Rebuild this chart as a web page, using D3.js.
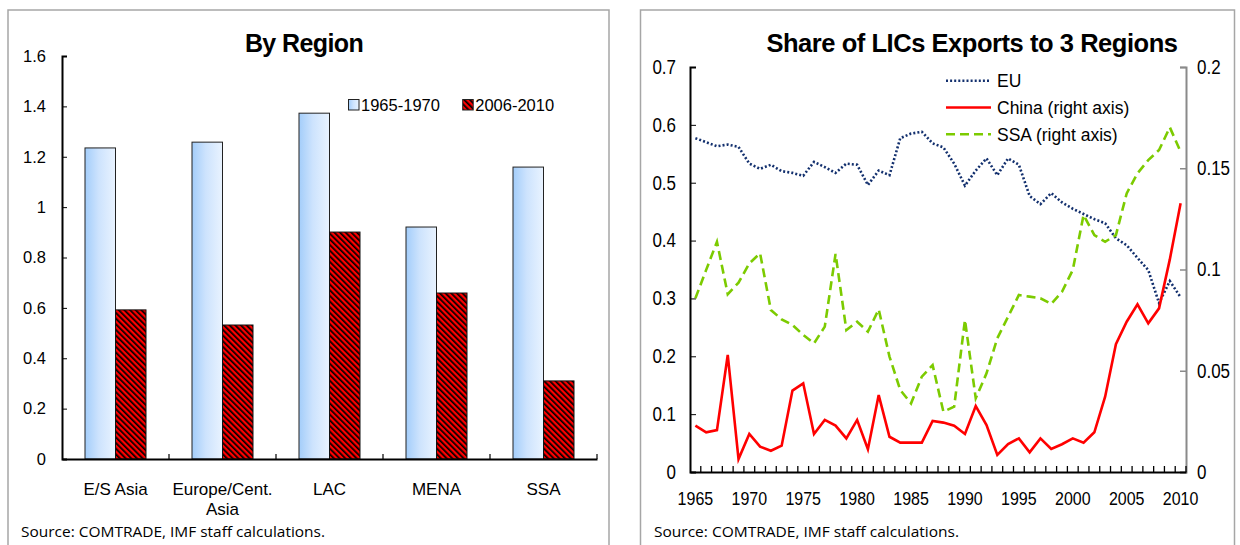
<!DOCTYPE html>
<html>
<head>
<meta charset="utf-8">
<script src="https://cdn.jsdelivr.net/npm/d3@7"></script>
<style>
  body { margin: 0; background: #fff; }
  text { font-family: "Liberation Sans", Arial, sans-serif; fill: #000; }
  .tall { transform-box: fill-box; transform-origin: center; transform: scaleY(1.15); }
</style>
</head>
<body>
<script>
// left chart data
var regions = ['E/S Asia', 'Europe/Cent. Asia', 'LAC', 'MENA', 'SSA']
var periods = ['1965-1970', '2006-2010']
var early = [1.235, 1.258, 1.373, 0.921, 1.159]
var late = [0.592, 0.532, 0.901, 0.659, 0.31]
var leftTicks = [0, 0.2, 0.4, 0.6, 0.8, 1, 1.2, 1.4, 1.6]

// right chart data
var years = d3.range(1965, 2011)
var yearLabels = [1965, 1970, 1975, 1980, 1985, 1990, 1995, 2000, 2005, 2010]
var eu = [0.577, 0.570, 0.563, 0.566, 0.562, 0.533, 0.524, 0.531, 0.520, 0.517,
          0.512, 0.536, 0.527, 0.517, 0.533, 0.531, 0.496, 0.521, 0.513, 0.577,
          0.585, 0.588, 0.568, 0.561, 0.533, 0.495, 0.521, 0.542, 0.513, 0.542,
          0.531, 0.477, 0.463, 0.482, 0.466, 0.455, 0.446, 0.437, 0.430, 0.404,
          0.392, 0.370, 0.349, 0.292, 0.330, 0.302]
var china = [0.0229, 0.0196, 0.0207, 0.0578, 0.0064, 0.0188, 0.0125, 0.0105, 0.0130, 0.0402,
             0.0438, 0.0188, 0.0257, 0.0229, 0.0166, 0.0257, 0.0112, 0.0380, 0.0174, 0.0145,
             0.0145, 0.0145, 0.0252, 0.0244, 0.0229, 0.0188, 0.0326, 0.0232, 0.0084, 0.0138,
             0.0166, 0.0097, 0.0166, 0.0114, 0.0137, 0.0166, 0.0145, 0.0196, 0.0372, 0.0631,
             0.0742, 0.0828, 0.0734, 0.0808, 0.1050, 0.1327]
var ssa = [0.0858, 0.0998, 0.1137, 0.0878, 0.0935, 0.1030, 0.1080, 0.0800, 0.0754, 0.0726,
           0.0677, 0.0635, 0.0718, 0.1077, 0.0701, 0.0742, 0.0693, 0.0803, 0.0570, 0.0405,
           0.0339, 0.0471, 0.0528, 0.0298, 0.0323, 0.0751, 0.0364, 0.0487, 0.0660, 0.0767,
           0.0874, 0.0866, 0.0858, 0.0830, 0.0890, 0.0998, 0.1269, 0.1170, 0.1137, 0.1170,
           0.1376, 0.1475, 0.1540, 0.1590, 0.1702, 0.1582]
var rightTicks = [0, 0.1, 0.2, 0.3, 0.4, 0.5, 0.6, 0.7]
var rightTicks2 = [0, 0.05, 0.1, 0.15, 0.2]
var seriesNames = ['EU', 'China (right axis)', 'SSA (right axis)']

var fmt = d3.format('~g')

var svg = d3.select('body').append('svg')
    .attr('width', 1240)
    .attr('height', 545)

var defs = svg.append('defs')

// light blue bar gradient
var grad = defs.append('linearGradient').attr('id', 'blueGrad')
    .attr('x1', 0).attr('x2', 1).attr('y1', 0).attr('y2', 0)
grad.append('stop').attr('offset', 0).attr('stop-color', '#a3cdfa')
grad.append('stop').attr('offset', 0.45).attr('stop-color', '#cde3fd')
grad.append('stop').attr('offset', 1).attr('stop-color', '#e9f3ff')

// red/black hatch
var hatch = defs.append('pattern').attr('id', 'hatch')
    .attr('patternUnits', 'userSpaceOnUse')
    .attr('width', 4).attr('height', 4)
    .attr('patternTransform', 'rotate(-45)')
hatch.append('rect').attr('width', 4).attr('height', 4).attr('fill', '#ff0000')
hatch.append('rect').attr('width', 1.7).attr('height', 4).attr('fill', '#000')

// panel frames
svg.append('rect').attr('x', 8).attr('y', 10).attr('width', 601).attr('height', 560)
    .attr('fill', 'none').attr('stroke', '#a6a6a6').attr('stroke-width', 1.5)
svg.append('rect').attr('x', 640.5).attr('y', 10).attr('width', 594).attr('height', 560)
    .attr('fill', 'none').attr('stroke', '#a6a6a6').attr('stroke-width', 1.5)

// ---------- left: By Region ----------
var xL = d3.scaleBand().domain(regions).range([62, 597])
var xSub = d3.scaleBand().domain(periods).range([0, xL.bandwidth()]).paddingOuter(0.754)
var yL = d3.scaleLinear().domain([0, 1.6]).range([459, 56])

svg.append('text').attr('x', 304).attr('y', 52).attr('text-anchor', 'middle')
    .style('font-weight', 'bold').style('font-size', '25px').style('letter-spacing', '-0.6px')
    .text('By Region')

var groups = svg.selectAll('.grp')
    .data(regions)
    .enter()
    .append('g')
    .attr('transform', function(d) { return 'translate(' + xL(d) + ',0)' })

groups.append('rect')
    .attr('x', xSub(periods[0]))
    .attr('y', function(d, i) { return yL(early[i]) })
    .attr('width', xSub.bandwidth())
    .attr('height', function(d, i) { return yL(0) - yL(early[i]) })
    .attr('fill', 'url(#blueGrad)')
    .attr('stroke', '#222').attr('stroke-width', 1)

groups.append('rect')
    .attr('x', xSub(periods[1]))
    .attr('y', function(d, i) { return yL(late[i]) })
    .attr('width', xSub.bandwidth())
    .attr('height', function(d, i) { return yL(0) - yL(late[i]) })
    .attr('fill', 'url(#hatch)')
    .attr('stroke', '#111').attr('stroke-width', 1)

var yAxL = svg.append('g').attr('transform', 'translate(62,0)')
    .call(d3.axisLeft(yL).tickValues(leftTicks).tickFormat(fmt)
        .tickSizeInner(-5).tickSizeOuter(-5).tickPadding(16))
yAxL.selectAll('text').style('font-size', '16.5px')
yAxL.select('.domain').attr('stroke-width', 2)

var xAxL = svg.append('g').attr('transform', 'translate(0,459)')
    .call(d3.axisBottom(xL).tickSize(0).tickPadding(24).tickSizeOuter(0))
xAxL.select('.domain').attr('stroke-width', 2)
xAxL.selectAll('text').style('font-size', '17px').each(function(d) {
    var t = d3.select(this)
    if (this.getComputedTextLength() > xL.bandwidth() - 8) {
        var words = d.split(' ')
        var last = words.pop()
        t.text(null)
        t.append('tspan').attr('x', 0).text(words.join(' '))
        t.append('tspan').attr('x', 0).attr('dy', '1.18em').text(last)
    }
})
svg.append('g').selectAll('line')
    .data(regions.slice(1).map(function(d) { return xL(d) }).concat([597]))
    .enter().append('line')
    .attr('x1', function(d) { return d }).attr('x2', function(d) { return d })
    .attr('y1', 459).attr('y2', 454)
    .attr('stroke', '#000').attr('stroke-width', 1.2)

// left legend
var legL = svg.append('g').selectAll('g')
    .data(periods)
    .enter().append('g')
    .attr('transform', function(d, i) { return 'translate(' + [348.5, 462.7][i] + ',99.5)' })
legL.append('rect').attr('width', 10.5).attr('height', 10.5)
    .attr('fill', function(d, i) { return i ? 'url(#hatch)' : 'url(#blueGrad)' })
    .attr('stroke', '#222').attr('stroke-width', 1)
legL.append('text').attr('x', 12.5).attr('y', 11.5).style('font-size', '16.5px')
    .text(function(d) { return d })

svg.append('text').attr('x', 21).attr('y', 537)
    .attr('textLength', 304).attr('lengthAdjust', 'spacingAndGlyphs')
    .style('font-family', '"Open Sans", sans-serif').style('font-size', '15px')
    .text('Source: COMTRADE, IMF staff calculations.')

// ---------- right: Share of LICs Exports ----------
var xR = d3.scaleBand().domain(years).range([690, 1186])
var yR = d3.scaleLinear().domain([0, 0.7]).range([472, 67])
var yR2 = d3.scaleLinear().domain([0, 0.2]).range([472, 67])

svg.append('text').attr('x', 972).attr('y', 52).attr('text-anchor', 'middle')
    .style('font-weight', 'bold').style('font-size', '25.5px').style('letter-spacing', '-0.45px')
    .text('Share of LICs Exports to 3 Regions')

var yAxR = svg.append('g').attr('transform', 'translate(690,0)')
    .call(d3.axisLeft(yR).tickValues(rightTicks).tickFormat(fmt)
        .tickSizeInner(-6).tickSizeOuter(-6).tickPadding(14))
yAxR.selectAll('text').style('font-size', '17px').attr('class', 'tall')
yAxR.select('.domain').attr('stroke-width', 2)

var yAxR2 = svg.append('g').attr('transform', 'translate(1186,0)')
    .call(d3.axisRight(yR2).tickValues(rightTicks2).tickFormat(fmt)
        .tickSizeInner(-6).tickSizeOuter(-6).tickPadding(11))
yAxR2.selectAll('text').style('font-size', '17px').attr('class', 'tall')
yAxR2.select('.domain').attr('stroke', '#8a8a8a').attr('stroke-width', 2)
yAxR2.selectAll('line').attr('stroke', '#8a8a8a').attr('stroke-width', 1.5)

var xAxR = svg.append('g').attr('transform', 'translate(0,472)')
    .call(d3.axisBottom(xR).tickValues(yearLabels).tickSize(0).tickPadding(21).tickSizeOuter(0))
xAxR.selectAll('text').style('font-size', '16px').attr('class', 'tall')
xAxR.select('.domain').attr('stroke-width', 2)
svg.append('g').selectAll('line')
    .data(years.slice(1).map(function(d) { return xR(d) }).concat([1186]))
    .enter().append('line')
    .attr('x1', function(d) { return d }).attr('x2', function(d) { return d })
    .attr('y1', 472).attr('y2', 466)
    .attr('stroke', '#000').attr('stroke-width', 1.3)

var cx = function(d, i) { return xR(years[i]) + xR.bandwidth() / 2 }

var styles = [
    { color: '#13306e', width: 2.6, dash: '2,2.1' },
    { color: '#ff0000', width: 2.6, dash: null },
    { color: '#7ccb00', width: 2.6, dash: '9,5' }
]

svg.append('path').datum(eu)
    .attr('d', d3.line().x(cx).y(function(d) { return yR(d) }))
    .attr('fill', 'none').attr('stroke', styles[0].color)
    .attr('stroke-width', styles[0].width).attr('stroke-dasharray', styles[0].dash)

svg.append('path').datum(ssa)
    .attr('d', d3.line().x(cx).y(function(d) { return yR2(d) }))
    .attr('fill', 'none').attr('stroke', styles[2].color)
    .attr('stroke-width', styles[2].width).attr('stroke-dasharray', styles[2].dash)

svg.append('path').datum(china)
    .attr('d', d3.line().x(cx).y(function(d) { return yR2(d) }))
    .attr('fill', 'none').attr('stroke', styles[1].color)
    .attr('stroke-width', styles[1].width)

// right legend
var legR = svg.append('g').selectAll('g')
    .data(seriesNames)
    .enter().append('g')
    .attr('transform', function(d, i) { return 'translate(946,' + (80.7 + i * 26.8) + ')' })
legR.append('line').attr('x1', 0).attr('x2', 45)
    .attr('stroke', function(d, i) { return styles[i].color })
    .attr('stroke-width', function(d, i) { return styles[i].width })
    .attr('stroke-dasharray', function(d, i) { return styles[i].dash })
legR.append('text').attr('x', 51).attr('y', 6.5).style('font-size', '17.5px')
    .text(function(d) { return d })

svg.append('text').attr('x', 654).attr('y', 537)
    .attr('textLength', 305).attr('lengthAdjust', 'spacingAndGlyphs')
    .style('font-family', '"Open Sans", sans-serif').style('font-size', '15px')
    .text('Source: COMTRADE, IMF staff calculations.')
</script>
</body>
</html>
